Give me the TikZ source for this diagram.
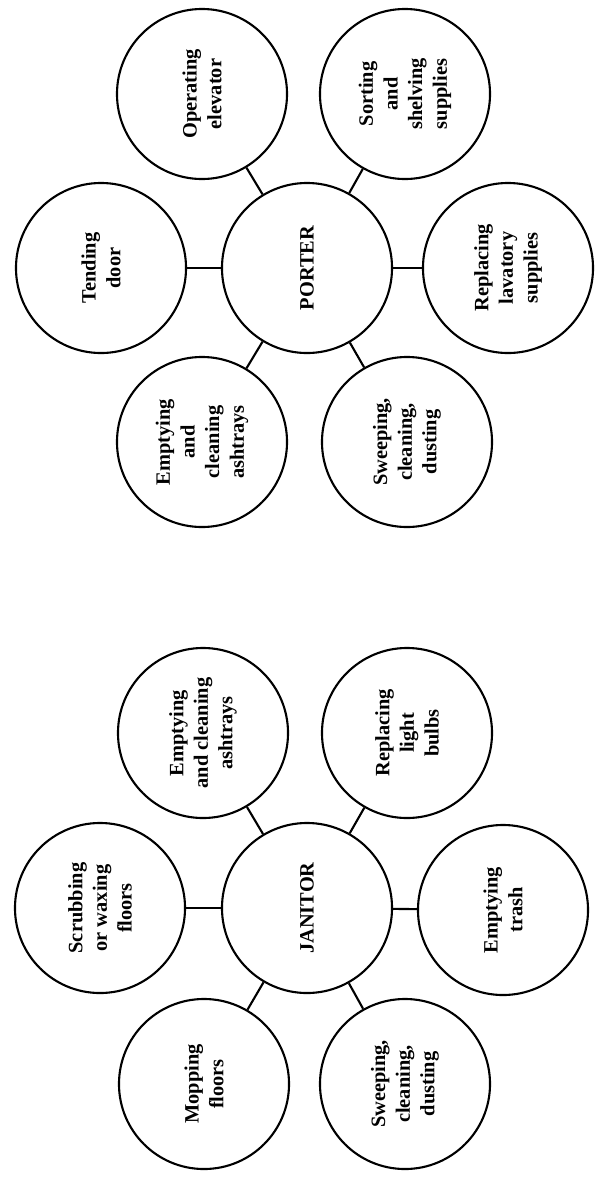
\documentclass[tikz,border=0pt]{standalone}
\usepackage{fontspec}
\setmainfont{Liberation Serif}
\usepackage{tikz}
\tikzset{task/.style={draw, circle, line width=1.5pt, minimum size=4.25cm, inner sep=0pt,
		align=center, rotate=90, font=\bfseries\fontsize{14.5}{17.5}\selectfont}}
\tikzset{spoke/.style={line width=1.5pt}}

\begin{document}
\begin{tikzpicture}[x=0.025cm, y=-0.025cm]

	\useasboundingbox (0,0) rectangle (604,1184);

	% porter
	\node[task] (porter) at (307,268) {PORTER};
	\node[task] (pdoor)  at (101,268) {Tending\\door};
	\node[task] (pelev)  at (202,94)  {Operating\\elevator};
	\node[task] (psort)  at (405,94)  {Sorting\\and\\shelving\\supplies};
	\node[task] (plav)   at (508,268) {Replacing\\lavatory\\supplies};
	\node[task] (psweep) at (407,442) {Sweeping,\\cleaning,\\dusting};
	\node[task] (pash)   at (202,442) {Emptying\\and\\cleaning\\ashtrays};

	\draw[spoke] (porter) -- (pdoor);
	\draw[spoke] (porter) -- (pelev);
	\draw[spoke] (porter) -- (psort);
	\draw[spoke] (porter) -- (plav);
	\draw[spoke] (porter) -- (psweep);
	\draw[spoke] (porter) -- (pash);

	% janitor
	\node[task] (janitor) at (307,908)  {JANITOR};
	\node[task] (jscrub)  at (100,908)  {Scrubbing\\or waxing\\floors};
	\node[task] (jash)    at (203,733)  {Emptying\\and cleaning\\ashtrays};
	\node[task] (jbulb)   at (407,733)  {Replacing\\light\\bulbs};
	\node[task] (jtrash)  at (503,910)  {Emptying\\trash};
	\node[task] (jsweep)  at (405,1084) {Sweeping,\\cleaning,\\dusting};
	\node[task] (jmop)    at (204,1084) {Mopping\\floors};

	\draw[spoke] (janitor) -- (jscrub);
	\draw[spoke] (janitor) -- (jash);
	\draw[spoke] (janitor) -- (jbulb);
	\draw[spoke] (janitor) -- (jtrash);
	\draw[spoke] (janitor) -- (jsweep);
	\draw[spoke] (janitor) -- (jmop);
\end{tikzpicture}
\end{document}
